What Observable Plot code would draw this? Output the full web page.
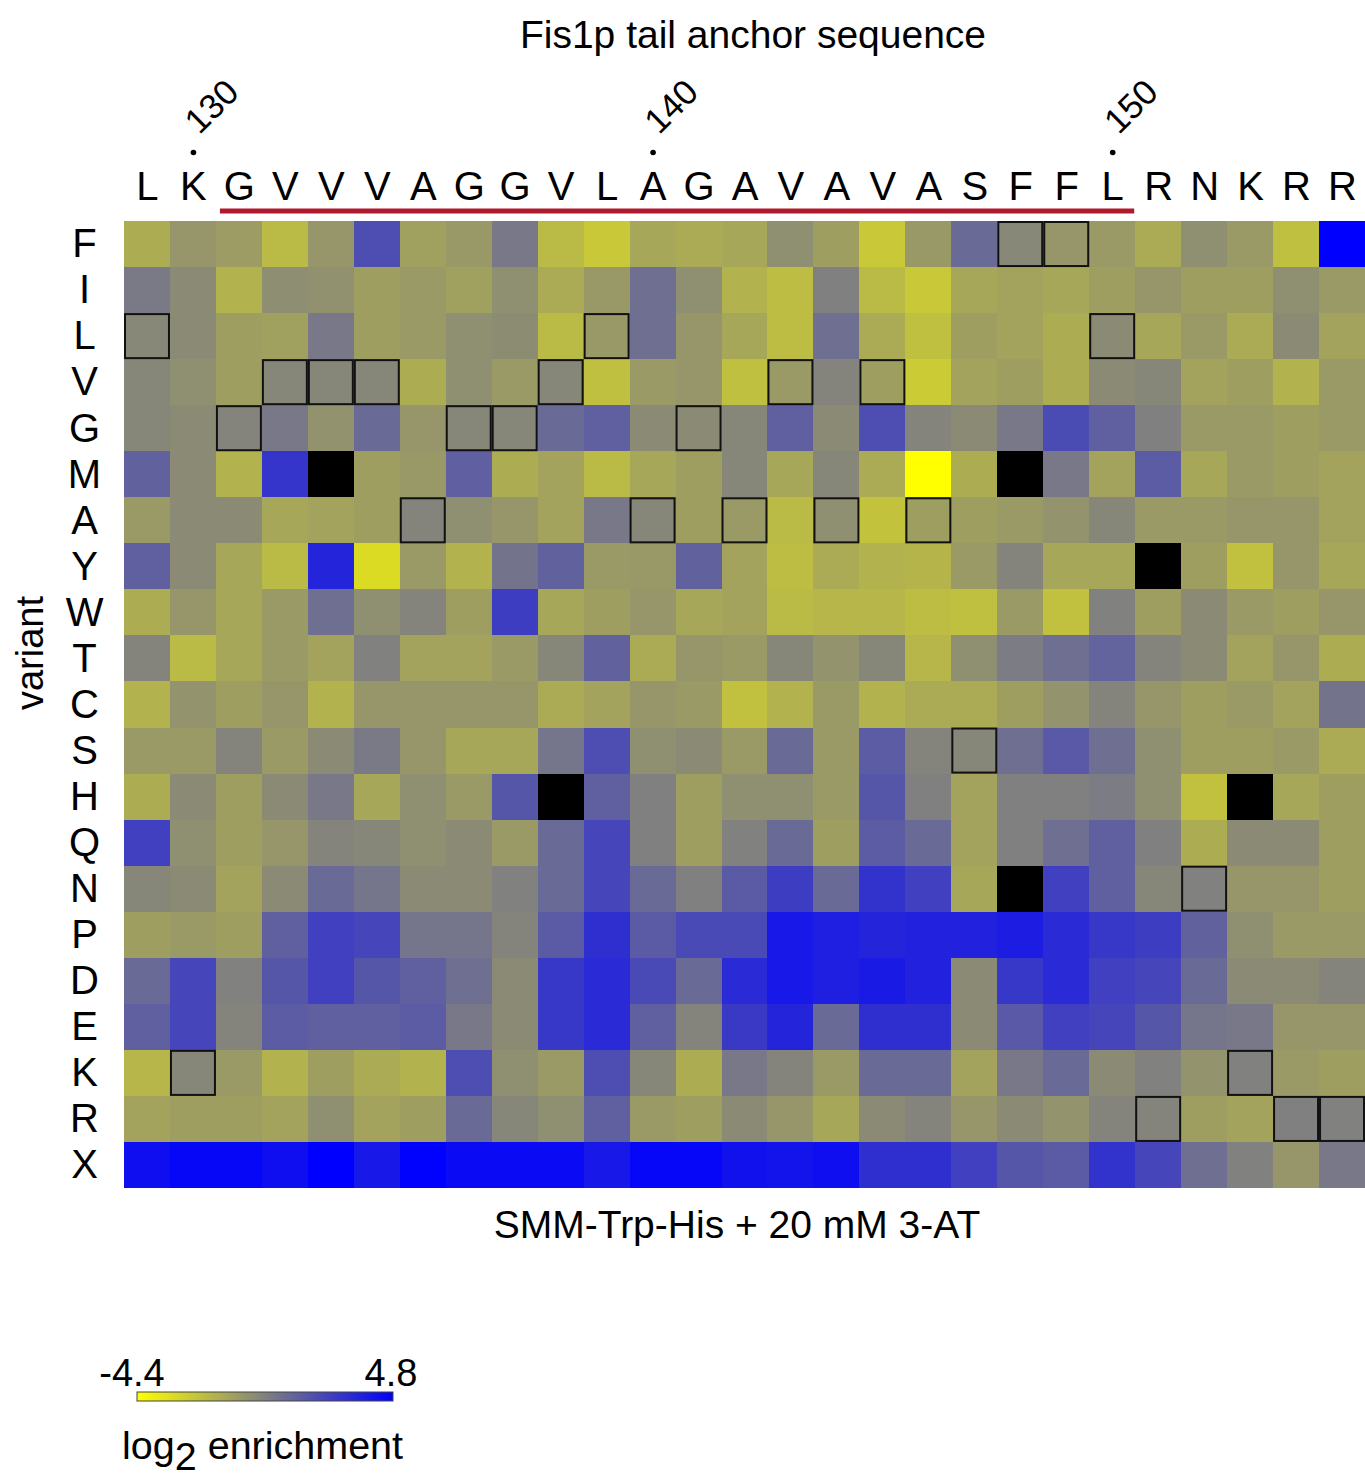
<!DOCTYPE html>
<html>
<head>
<meta charset="utf-8">
<script src="https://cdn.jsdelivr.net/npm/d3@7"></script>
<script src="https://cdn.jsdelivr.net/npm/@observablehq/plot@0.6"></script>
<style>
  html, body { margin: 0; padding: 0; background: #fff; }
  body { font-family: "Liberation Sans", Arial, Helvetica, sans-serif; }
</style>
</head>
<body>
<div id="chart"></div>
<script>
// ---- Data ----
const residues = ["L","K","G","V","V","V","A","G","G","V","L","A","G","A","V","A","V","A","S","F","F","L","R","N","K","R","R"];
const variants = ["F","I","L","V","G","M","A","Y","W","T","C","S","H","Q","N","P","D","E","K","R","X"];
const firstPosition = 129;
const labeledPositions = [130, 140, 150];
const underlinedRange = [131, 150];
const colorDomain = [-4.4, 0.2, 4.8];
const colorRange = ["#ffff00", "#808080", "#0000ff"];
const legendTicks = [-4.4, 4.8];

// log2 enrichment per variant row (columns follow residues); null = no data
const rowF = [-1.4,-0.6,-0.8,-1.9,-0.6,2.0,-1.0,-0.7,0.5, -1.9,-2.4,-1.2,-1.35,-1.2,-0.35,-0.9,-2.4,-0.7, 1.0,-0.1,-0.6,-0.75,-1.35,-0.35,-0.75,-2.1,4.8];
const rowI = [0.4,-0.2,-1.6,-0.3,-0.4,-0.9,-0.75,-1.0,-0.35, -1.35,-0.7,0.8,-0.35,-1.6,-2.0,0.2,-1.9,-2.4, -1.2,-1.05,-1.2,-0.9,-0.6,-0.9,-0.9,-0.35,-0.75];
const rowL = [-0.1,-0.2,-0.9,-1.0,0.5,-0.9,-0.75,-0.35,-0.25, -1.9,-0.7,0.8,-0.6,-1.2,-2.0,0.8,-1.35,-2.1, -0.9,-1.05,-1.4,-0.2,-1.2,-0.75,-1.35,-0.2,-1.05];
const rowV = [-0.05,-0.35,-0.9,-0.05,-0.05,-0.05,-1.4,-0.35,-0.75, -0.05,-2.1,-0.75,-0.6,-2.1,-0.75,0.05,-0.9,-2.5, -1.05,-0.9,-1.4,-0.2,-0.05,-1.05,-0.9,-1.6,-0.75];
const rowG = [-0.05,-0.2,0.05,0.5,-0.45,1.0,-0.6,-0.05,-0.05, 1.0,1.35,-0.2,-0.2,-0.05,1.35,-0.2,2.0,0.05, -0.2,0.5,2.1,1.35,0.2,-0.75,-0.75,-0.9,-0.75];
const rowM = [1.3,-0.2,-1.6,2.9,null,-0.9,-0.7,1.4,-1.4, -1.05,-1.9,-1.2,-0.9,-0.05,-1.2,-0.05,-1.35,-4.4, -1.4,null,0.5,-1.05,1.5,-1.2,-0.75,-0.9,-1.05];
const rowA = [-0.75,-0.2,-0.2,-1.2,-1.05,-0.9,0.05,-0.35,-0.6, -1.05,0.5,-0.05,-0.9,-0.75,-1.9,-0.35,-2.2,-0.9, -0.9,-0.75,-0.5,-0.05,-0.75,-0.75,-0.6,-0.6,-1.05];
const rowY = [1.35,-0.2,-1.2,-1.9,3.5,-3.1,-0.75,-1.6,0.65, 1.3,-0.75,-0.7,1.3,-1.05,-2.0,-1.35,-1.6,-1.7, -0.75,0.05,-1.2,-1.2,null,-0.9,-2.15,-0.6,-1.2];
const rowW = [-1.4,-0.6,-1.2,-0.75,0.8,-0.35,0.05,-0.9,2.6, -1.2,-0.9,-0.6,-1.2,-1.05,-1.9,-1.75,-1.75,-2.0, -2.1,-0.75,-2.15,0.15,-0.9,-0.2,-0.75,-0.9,-0.6];
const rowT = [0.05,-1.9,-1.2,-0.75,-1.05,0.15,-1.05,-1.05,-0.75, -0.05,1.3,-1.35,-0.6,-0.75,-0.05,-0.5,-0.05,-1.75, -0.35,0.35,0.8,1.25,0.05,-0.2,-1.05,-0.6,-1.4];
const rowC = [-1.6,-0.5,-0.9,-0.6,-1.6,-0.6,-0.6,-0.6,-0.6, -1.35,-1.05,-0.6,-0.75,-2.15,-1.6,-0.75,-1.6,-1.35, -1.35,-0.9,-0.5,0.05,-0.6,-0.9,-0.75,-1.05,0.65];
const rowS = [-0.75,-0.75,0.05,-0.75,-0.2,0.4,-0.6,-1.2,-1.2, 0.6,2.0,-0.35,-0.2,-0.75,1.0,-0.75,1.5,0.05, -0.05,0.8,1.6,0.8,-0.35,-0.9,-0.9,-0.75,-1.35];
const rowH = [-1.4,-0.2,-0.9,-0.2,0.5,-1.2,-0.35,-0.75,1.7, null,1.35,0.2,-0.9,-0.35,-0.35,-0.75,1.7,0.2, -1.05,0.2,0.2,0.35,-0.35,-2.15,null,-1.2,-0.9];
const rowQ = [2.5,-0.35,-0.9,-0.6,0.05,-0.05,-0.35,-0.2,-0.75, 1.0,2.3,0.2,-0.9,0.15,1.0,-0.9,1.5,1.0, -1.05,0.2,0.8,1.35,0.2,-1.4,-0.2,-0.2,-0.9];
const rowN = [-0.05,-0.2,-1.05,-0.2,1.0,0.6,-0.2,-0.2,0.15, 1.0,2.3,1.0,0.2,1.55,2.6,1.0,3.0,2.5, -1.2,null,2.5,1.35,-0.05,0.15,-0.6,-0.6,-0.9];
const rowP = [-0.9,-0.75,-0.9,1.35,2.5,2.3,0.6,0.6,0.05, 1.55,3.1,1.55,2.15,2.15,3.95,3.7,3.5,3.6, 3.6,3.8,3.3,2.8,2.6,1.3,-0.35,-0.75,-0.75];
const rowD = [1.0,2.3,0.15,1.7,2.5,1.7,1.35,0.8,-0.2, 2.8,3.3,2.15,1.0,3.3,3.95,3.7,3.85,3.6, -0.2,2.8,3.3,2.5,2.3,1.0,-0.2,-0.2,0.05];
const rowE = [1.35,2.3,0.05,1.5,1.35,1.35,1.5,0.5,-0.2, 2.8,3.3,1.35,0.05,2.75,3.5,1.0,3.1,3.1, -0.2,1.6,2.5,2.3,1.7,0.6,0.5,-0.6,-0.6];
const rowK = [-1.75,-0.05,-0.75,-1.6,-0.9,-1.35,-1.6,2.0,-0.35, -0.75,2.0,-0.05,-1.4,0.5,0.05,-0.75,1.0,1.0, -1.05,0.5,1.0,-0.2,0.15,-0.5,0.15,-0.75,-0.9];
const rowR = [-1.05,-0.9,-0.9,-1.05,-0.35,-1.05,-0.9,1.0,-0.05, -0.35,1.35,-0.75,-0.9,-0.2,-0.6,-1.2,-0.2,0.05, -0.6,-0.2,-0.5,0.05,0.05,-0.9,-1.05,0.2,0.15];
const rowX = [4.3,4.55,4.55,4.3,4.8,3.95,4.75,4.45,4.45, 4.45,3.95,4.6,4.6,4.2,4.1,4.3,3.1,3.1, 2.5,1.7,1.55,3.0,2.3,0.8,0.15,-0.6,0.5];

const rows = [rowF,rowI,rowL,rowV,rowG,rowM,rowA,rowY,rowW,rowT,rowC,rowS,rowH,rowQ,rowN,rowP,rowD,rowE,rowK,rowR,rowX];

// ---- Table for Plot ----
const table = [];
variants.forEach((v, r) => rows[r].forEach((val, c) => {
  table.push({variant: v, col: c, value: val, wt: residues[c] === v});
}));
const cols = d3.range(residues.length);

const FONT = "Liberation Sans, Arial, Helvetica, sans-serif";
const W = 1365, H = 1481;

const plot = Plot.plot({
  width: W,
  height: H,
  marginTop: 221,
  marginBottom: 293,
  marginLeft: 124,
  marginRight: 0,
  style: {fontFamily: FONT, color: "black", background: "white", overflow: "visible"},
  x: {type: "band", domain: cols, padding: 0, round: false, axis: null},
  y: {type: "band", domain: variants, padding: 0, round: false, axis: null},
  color: {type: "linear", domain: colorDomain, range: colorRange, interpolate: "rgb", unknown: "#000000"},
  marks: [
    Plot.cell(table, {x: "col", y: "variant", fill: "value", inset: 0, shapeRendering: "crispEdges"}),
    Plot.cell(table.filter(d => d.wt), {x: "col", y: "variant", fill: "none", stroke: "#111", strokeWidth: 2, inset: 1}),
    // row labels
    Plot.text(variants, {y: d => d, text: d => d, frameAnchor: "left", dx: -40, fontSize: 40, textAnchor: "middle", lineAnchor: "middle", fill: "black"}),
    // residue letters
    Plot.text(cols, {x: d => d, text: d => residues[d], frameAnchor: "top", dy: -34, fontSize: 40, lineAnchor: "middle", fill: "black"}),
    // position dots and numbers
    Plot.dot(labeledPositions, {x: p => p - firstPosition, frameAnchor: "top", dy: -69, r: 2.8, fill: "black", stroke: null}),
    Plot.text(labeledPositions, {x: p => p - firstPosition, text: p => String(p), frameAnchor: "top", dx: -2, dy: -94, rotate: -45, textAnchor: "start", lineAnchor: "middle", fontSize: 35, fill: "black"}),
    // titles
    Plot.text(["Fis1p tail anchor sequence"], {text: d => d, frameAnchor: "top", dx: 8, dy: -186, fontSize: 39, lineAnchor: "middle", textAnchor: "middle", fill: "black"}),
    Plot.text(["SMM-Trp-His + 20 mM 3-AT"], {text: d => d, frameAnchor: "bottom", dx: -8, dy: 37, fontSize: 39, lineAnchor: "middle", textAnchor: "middle", fill: "black"}),
    Plot.text(["variant"], {text: d => d, frameAnchor: "left", dx: -94, dy: -52, rotate: -90, fontSize: 38, lineAnchor: "middle", textAnchor: "middle", fill: "black"})
  ]
});

document.getElementById("chart").appendChild(plot);

// ---- Underline for the transmembrane segment ----
const svg = d3.select(plot);
const xs = plot.scale("x");
const x0 = xs.apply(underlinedRange[0] - firstPosition);
const x1 = xs.apply(underlinedRange[1] - firstPosition) + xs.bandwidth;
svg.append("line")
  .attr("x1", x0 + 4).attr("x2", x1 - 1)
  .attr("y1", 211).attr("y2", 211)
  .attr("stroke", "#b01a2e").attr("stroke-width", 5);

// ---- Legend ----
const cs = plot.scale("color");
const dmin = cs.domain[0], dmax = cs.domain[cs.domain.length - 1];
const defs = svg.append("defs");
const grad = defs.append("linearGradient").attr("id", "legendGrad").attr("x1", "0%").attr("x2", "100%");
cs.domain.forEach((d, i) => {
  grad.append("stop").attr("offset", ((d - dmin) / (dmax - dmin) * 100) + "%").attr("stop-color", cs.range[i]);
});
const lg = svg.append("g").attr("font-family", FONT).attr("fill", "black");
const barX = 137, barW = 256, barY = 1392, barH = 9;
lg.append("rect").attr("x", barX).attr("y", barY).attr("width", barW).attr("height", barH)
  .attr("fill", "url(#legendGrad)").attr("stroke", "#444").attr("stroke-width", 1);
lg.append("text").attr("x", barX - 5).attr("y", 1386).attr("text-anchor", "middle").attr("font-size", 38).text(String(legendTicks[0]));
lg.append("text").attr("x", barX + barW - 2).attr("y", 1386).attr("text-anchor", "middle").attr("font-size", 38).text(String(legendTicks[1]));
const lt = lg.append("text").attr("x", 122).attr("y", 1459).attr("text-anchor", "start").attr("font-size", 39.5);
lt.append("tspan").text("log");
lt.append("tspan").attr("dy", 11).text("2");
lt.append("tspan").attr("dy", -11).text(" enrichment");
</script>
</body>
</html>
